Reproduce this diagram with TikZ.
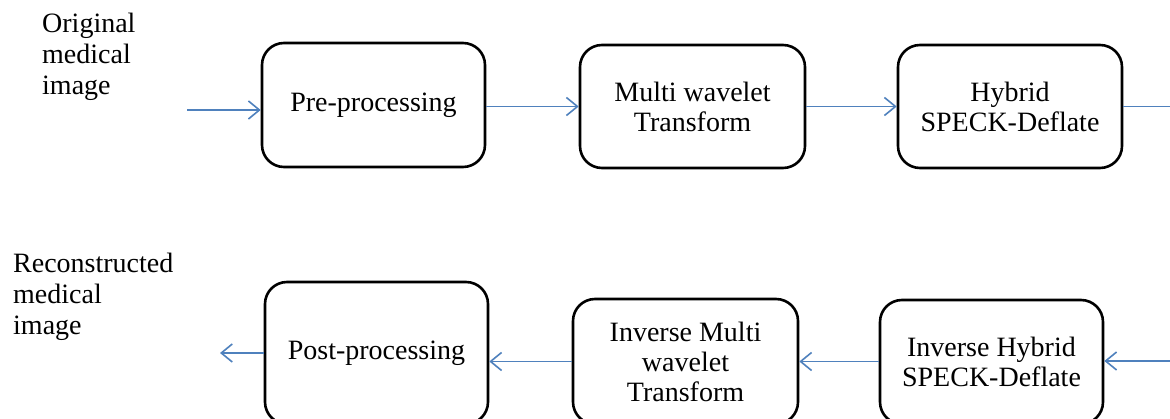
\documentclass[tikz,border=0pt]{standalone}
\usepackage{fontspec}
\setmainfont{Liberation Serif}
\usetikzlibrary{arrows.meta}
\definecolor{flowblue}{RGB}{79,129,189}
\begin{document}
\begin{tikzpicture}[x=1pt,y=-1pt,
  every node/.style={font=\fontsize{28}{30}\selectfont},
  procbox/.style={draw=black, line width=2.6pt, rounded corners=22pt,
    align=center, inner sep=0pt, fill=white},
  flow/.style={draw=flowblue, line width=1.6pt},
  flowarrow/.style={flow, -{Straight Barb[length=11pt,width=18pt,line width=1.6pt]}},
  sidelabel/.style={align=left, inner sep=0pt, anchor=north west,
    font=\fontsize{28}{31}\selectfont}]
\useasboundingbox (0,0) rectangle (1170,419);
\clip (0,0) rectangle (1170,419);
\fill[white] (0,0) rectangle (1170,419);

% top row
\node[procbox, minimum width=223pt, minimum height=124pt] (pre) at (373.5,105) {Pre-processing};
\node[procbox, minimum width=225pt, minimum height=123pt] (mwt) at (692.5,106.5) {Multi wavelet\\Transform};
\node[procbox, minimum width=224pt, minimum height=123pt] (hyb) at (1010,106.5) {Hybrid\\SPECK-Deflate};

% bottom row
\node[procbox, minimum width=223pt, minimum height=142pt] (post) at (376.5,353) {Post-processing};
\node[procbox, minimum width=225pt, minimum height=125pt] (imwt) at (685.5,361.5) {Inverse Multi\\wavelet\\Transform};
\node[procbox, minimum width=223pt, minimum height=124pt] (ihyb) at (991.5,362) {Inverse Hybrid\\SPECK-Deflate};

% labels
\node[sidelabel] (orig) at (42,13) {Original\\medical\\image};
\node[sidelabel] (recon) at (13,253) {Reconstructed\\medical\\image};

% connector ends
\coordinate (inS) at (187,110);
\coordinate (topE) at (1172,106.5);
\coordinate (botS) at (1172,361);
\coordinate (outE) at (220,353);

% connectors
\draw[flowarrow] (inS) -- (pre.west |- inS);
\draw[flowarrow] (pre.east |- mwt.west) -- (mwt.west);
\draw[flowarrow] (mwt.east) -- (hyb.west);
\draw[flow] (hyb.east) -- (topE);

\draw[flowarrow] (botS) -- (ihyb.east |- botS);
\draw[flowarrow] (ihyb.west |- imwt.east) -- (imwt.east);
\draw[flowarrow] (imwt.west) -- (post.east |- imwt.west);
\draw[flowarrow] (post.west) -- (outE);
\end{tikzpicture}
\end{document}
